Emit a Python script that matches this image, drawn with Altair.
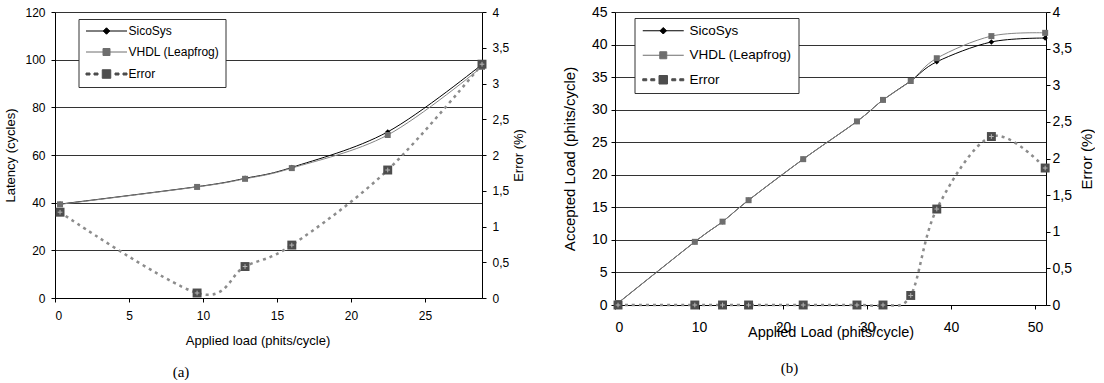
import altair as alt
import pandas as pd

SERIES = ["SicoSys", "VHDL (Leapfrog)", "Error"]

# ---- panel (a): latency ----
A_LOAD = [0.34, 9.6, 12.84, 16.0, 22.48, 28.85]
A_SICO = [39.4, 46.7, 50.2, 54.8, 69.7, 98.0]
A_VHDL = [39.3, 46.6, 50.0, 54.5, 68.4, 97.0]
A_ERR = [1.20, 0.07, 0.44, 0.74, 1.79, 3.27]
A_XTICKS = [0, 5, 10, 15, 20, 25]
A_YTICKS = [0, 20, 40, 60, 80, 100, 120]

# ---- panel (b): accepted load ----
B_LOAD = [0.36, 9.5, 12.8, 15.9, 22.4, 28.8, 31.9, 35.2, 38.3, 44.8, 51.2]
B_SICO = [0.3, 9.7, 12.8, 16.1, 22.4, 28.2, 31.5, 34.4, 37.35, 40.4, 41.0]
B_VHDL = [0.3, 9.7, 12.8, 16.1, 22.4, 28.2, 31.5, 34.4, 37.9, 41.3, 41.8]
B_ERR = [0, 0, 0, 0, 0, 0, 0, 0.13, 1.31, 2.30, 1.87]
B_XTICKS = [0, 10, 20, 30, 40, 50]
B_YTICKS = [0, 5, 10, 15, 20, 25, 30, 35, 40, 45]

ERR_TICKS = [0, 0.5, 1, 1.5, 2, 2.5, 3, 3.5, 4]

FONT = "Liberation Sans"
LEG_SHAPES = [
    "M-4.1,0H4.1M0,-0.65L0.65,0L0,0.65L-0.65,0Z",
    "M-4.1,0H4.1M-0.7,-0.7H0.7V0.7H-0.7Z",
    "M-4.1,-0.2H-3.3V0.2H-4.1ZM-2.5,-0.2H-1.7V0.2H-2.5ZM1.7,-0.2H2.5V0.2H1.7ZM3.3,-0.2H4.1V0.2H3.3ZM-0.85,-0.85H0.85V0.85H-0.85Z",
]
LEG_COLORS = ["#000000", "#6e6e6e", "#4d4d4d"]


def panel(load, sico, vhdl, err, xmax, xticks, ymax, yticks, xtitle, ytitle, w, h, f):
    n = len(load)
    main = pd.DataFrame({
        "load": load * 2,
        "series": ["SicoSys"] * n + ["VHDL (Leapfrog)"] * n,
        "v": sico + vhdl,
    })
    edf = pd.DataFrame({"load": load, "series": ["Error"] * n, "e": err})

    xaxis_kw = dict(values=xticks, title=xtitle, grid=False, tickSize=4,
                    labelPadding=f["xlp"], labelFont=FONT, labelFontSize=f["xl"],
                    labelColor="black", titleFont=FONT, titleFontSize=f["xt"],
                    titleFontWeight="normal", titleColor="black",
                    titleBaseline="alphabetic", titleY=f["xty"],
                    domainColor="black", tickColor="black")
    if "xtx" in f:
        xaxis_kw.update(titleX=f["xtx"], titleAlign="center")
    x = alt.X("load:Q", scale=alt.Scale(domain=[0, xmax], nice=False, zero=False),
              axis=alt.Axis(**xaxis_kw))
    y = alt.Y("v:Q", scale=alt.Scale(domain=[0, ymax], nice=False, zero=False),
              axis=alt.Axis(values=yticks, title=ytitle, grid=True, gridColor="#333333",
                            gridWidth=1, tickSize=4, labelPadding=f["ylp"], labelFont=FONT,
                            labelFontSize=f["yl"], labelColor="black", titleFont=FONT,
                            titleFontSize=f["yt"], titleFontWeight="normal", titleColor="black",
                            titleAngle=-90, titleBaseline="alphabetic", titleX=f["ytx"],
                            titleY=h / 2, titleAlign="center",
                            domainColor="black", tickColor="black"))
    ye = alt.Y("e:Q", scale=alt.Scale(domain=[0, 4], nice=False, zero=False),
               axis=alt.Axis(orient="right", values=ERR_TICKS, title="Error  (%)", grid=False,
                             tickSize=4, labelPadding=f["elp"], labelFont=FONT,
                             labelFontSize=f["yl"], labelColor="black",
                             labelExpr="replace(format(datum.value, '~g'), '.', ',')",
                             titleFont=FONT, titleFontSize=f["yt"], titleFontWeight="normal",
                             titleColor="black", titleAngle=-90, titleBaseline="alphabetic",
                             titleX=f["etx"], titleY=h / 2, titleAlign="center",
                             domainColor="black", tickColor="black"))

    base = alt.Chart(main)
    sico_line = base.transform_filter(alt.datum.series == "SicoSys").mark_line(
        color="black", strokeWidth=1, interpolate="cardinal").encode(x=x, y=y)
    vhdl_line = base.transform_filter(alt.datum.series == "VHDL (Leapfrog)").mark_line(
        color="#858585", strokeWidth=1, interpolate="cardinal").encode(x=x, y=y)
    sico_pt = base.transform_filter(alt.datum.series == "SicoSys").mark_point(
        shape="diamond", filled=True, color="black", size=30, opacity=1).encode(x=x, y=y)
    vhdl_pt = base.transform_filter(alt.datum.series == "VHDL (Leapfrog)").mark_point(
        shape="square", filled=True, color="#6e6e6e", size=36, opacity=1).encode(x=x, y=y)

    leg = alt.Legend(orient="none", legendX=f["lx"], legendY=f["ly"], title=None,
                     fillColor="white", strokeColor="#333333", padding=6,
                     labelFont=FONT, labelFontSize=f["lf"], labelColor="black",
                     symbolSize=100, symbolStrokeWidth=1, rowPadding=f["rp"],
                     symbolOffset=f["so"], labelOffset=f["lo"])
    sc = dict(domain=SERIES)
    legend_layer = base.transform_filter("false").mark_point(filled=True, opacity=1).encode(
        x=x, y=y,
        fill=alt.Fill("series:N", scale=alt.Scale(range=LEG_COLORS, **sc), legend=leg),
        stroke=alt.Stroke("series:N", scale=alt.Scale(range=LEG_COLORS, **sc), legend=leg),
        shape=alt.Shape("series:N", scale=alt.Scale(range=LEG_SHAPES, **sc), legend=leg),
    )
    left_group = alt.layer(sico_line, vhdl_line, sico_pt, vhdl_pt, legend_layer)

    ebase = alt.Chart(edf)
    err_line = ebase.mark_line(color="#8c8c8c", strokeWidth=2.5, strokeDash=[3, 4],
                               interpolate="cardinal").encode(x=x, y=ye)
    err_pt = ebase.mark_point(shape="square", filled=True, color="#4d4d4d", size=80,
                              opacity=1).encode(x=x, y=ye)
    err_plus = ebase.mark_point(shape="M-1,0H1M0,-1V1", filled=False, color="#b5b5b5",
                                size=22, strokeWidth=1, opacity=1).encode(x=x, y=ye)
    right_group = alt.layer(err_line, err_pt, err_plus)

    return alt.layer(left_group, right_group).resolve_scale(y="independent").properties(
        width=w, height=h,
        title=alt.TitleParams(f["tag"], orient="bottom", anchor="middle", frame="group",
                              font="Liberation Serif", fontSize=15, fontWeight="normal",
                              color="black", dx=f["tdx"], offset=f["toff"]),
    )


FA = dict(xl=12, xlp=8, xt=13, xty=46, xtx=202.5, yl=12, ylp=6, yt=13, ytx=-41, elp=6,
          etx=40, lx=23.5, ly=7, lf=12, rp=9, so=16, lo=16, tag="(a)", tdx=-87.5, toff=18)
FB = dict(xl=14, xlp=11, xt=14.5, xty=31, yl=14, ylp=4, yt=15, ytx=-41, elp=2, etx=45.5,
          lx=19.5, ly=6, lf=13.5, rp=9.5, so=16, lo=19.5, tag="(b)", tdx=-41, toff=22)

left = panel(A_LOAD, A_SICO, A_VHDL, A_ERR, 28.85, A_XTICKS, 120, A_YTICKS,
             "Applied load (phits/cycle)", "Latency (cycles)", 427, 286, FA)
right = panel(B_LOAD, B_SICO, B_VHDL, B_ERR, 51.3, B_XTICKS, 45, B_YTICKS,
              "Applied Load (phits/cycle)", "Accepted Load (phits/cycle)", 431, 293, FB)

chart = alt.hconcat(left, right, spacing=37).resolve_scale(
    fill="independent", stroke="independent", shape="independent"
).resolve_legend(
    fill="independent", stroke="independent", shape="independent"
).properties(
    padding={"left": 4, "top": 5, "right": 0, "bottom": 0}
).configure_view(stroke=None)

chart.save("out.html", embed_options={"renderer": "svg", "actions": False})
